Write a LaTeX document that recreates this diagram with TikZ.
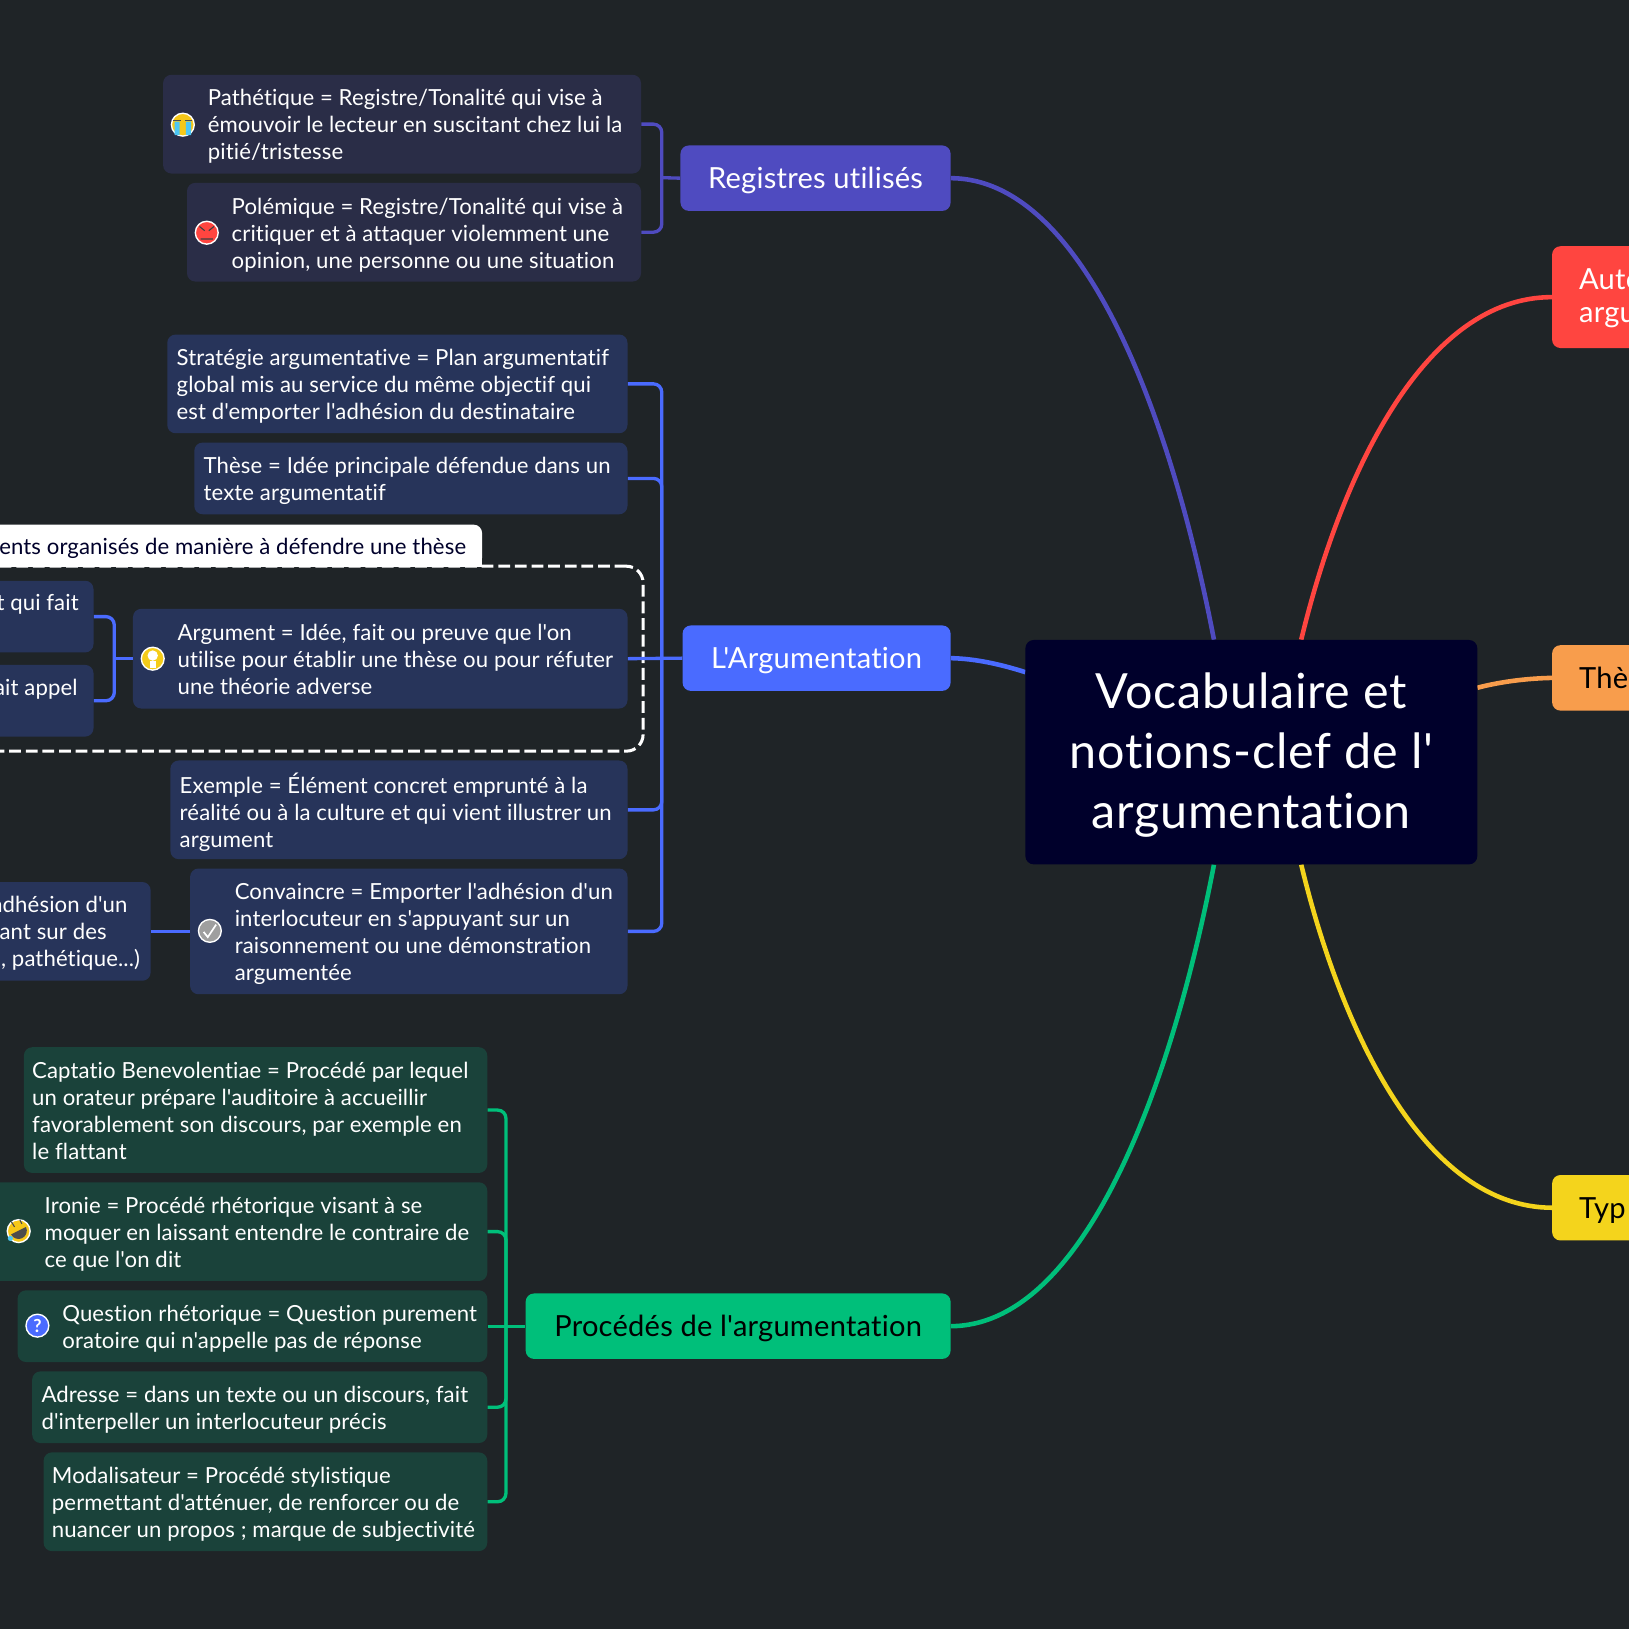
\documentclass[tikz,border=0pt]{standalone}
\usepackage{fontspec}
\setmainfont[Ligatures={TeXOff,NoCommon}]{Lato}
\usepackage{tikz}
\usetikzlibrary{fit}
\usetikzlibrary{backgrounds}
\definecolor{bgcol}{HTML}{1F2427}
\definecolor{centrecol}{HTML}{00002B}
\definecolor{regcol}{HTML}{4F4BC0}
\definecolor{reglight}{HTML}{2A2D47}
\definecolor{argcol}{HTML}{4A6BFF}
\definecolor{arglight}{HTML}{27345A}
\definecolor{proccol}{HTML}{00BF7A}
\definecolor{proclight}{HTML}{1A423A}
\definecolor{autocol}{HTML}{FF4540}
\definecolor{thesecol}{HTML}{F89D4C}
\definecolor{typecol}{HTML}{F4D41C}
\definecolor{sumcol}{HTML}{00002B}
\begin{document}
\begin{tikzpicture}[x=0.75pt, y=-0.75pt,
    leaf/.style={fill=#1, rounded corners=6pt, inner sep=0pt},
    txt/.style={align=left, text=white, inner sep=0pt, font=\fontsize{16}{19.5}\addfontfeatures{LetterSpace=0.5}\selectfont},
    lbl/.style={txt, anchor=west, yshift=-3.4pt, execute at begin node=\strut, execute at end node=\strut},
    cut/.style={txt, anchor=base east},
    toptxt/.style={inner sep=0pt, text=#1, yshift=-1.5pt, font=\fontsize{21}{24}\addfontfeatures{LetterSpace=0.8}\selectfont},
    curve/.style={draw=#1, line width=3.3pt},
    bus/.style={draw=#1, line width=2.4pt, rounded corners=6pt},
    icon/.style={circle, draw=white, line width=1pt, fill=#1, minimum size=16.5pt, inner sep=0pt}]
    \useasboundingbox (0,0) rectangle (1568,1568);

    \node (centre) [leaf=centrecol, fit={(987,616) (1422,832)}] {};
    \node (centret) [inner sep=0pt, align=center, text=white, yshift=-2.2pt, font=\fontsize{35}{43.5}\addfontfeatures{LetterSpace=1.5}\selectfont] at (centre) {Vocabulaire et\\notions-clef de l'\\argumentation};

    \node (regs) [leaf=regcol, fit={(655,140) (915,203)}] {};
    \node (regst) [toptxt=white] at (regs) {Registres utilisés};
    \node (largu) [leaf=argcol, fit={(657,602) (915,665)}] {};
    \node (largut) [toptxt=white] at (largu) {L'Argumentation};
    \node (procs) [leaf=proccol, fit={(506,1245) (915,1308)}] {};
    \node (procst) [toptxt=black] at (procs) {Procédés de l'argumentation};
    \node (auto) [leaf=autocol, fit={(1494,237) (1590,335)}] {};
    \node (autot) [toptxt=white, align=left, anchor=west] at ([shift={(26,-1)}]auto.west) {Auto\\argu};
    \node (these) [leaf=thesecol, fit={(1494,621) (1590,684)}] {};
    \node (theset) [toptxt=black, anchor=west] at ([shift={(26,-2)}]these.west) {Thè};
    \node (typ) [leaf=typecol, fit={(1494,1131) (1590,1194)}] {};
    \node (typt) [toptxt=black, anchor=west] at ([shift={(26,1)}]typ.west) {Typ};

    \node (reg1) [leaf=reglight, fit={(157,72) (617,167)}] {};
    \node (reg1t) [lbl] at ([shift={(43,0)}]reg1.west) {Pathétique = Registre/Tonalité qui vise à\\émouvoir le lecteur en suscitant chez lui la\\pitié/tristesse};
    \node (reg2) [leaf=reglight, fit={(180,176) (617,271)}] {};
    \node (reg2t) [lbl] at ([shift={(43,0)}]reg2.west) {Polémique = Registre/Tonalité qui vise à\\critiquer et à attaquer violemment une\\opinion, une personne ou une situation};

    \node (arg1) [leaf=arglight, fit={(161,322) (604,417)}] {};
    \node (arg1t) [lbl] at ([shift={(9,0)}]arg1.west) {Stratégie argumentative = Plan argumentatif\\global mis au service du même objectif qui\\est d'emporter l'adhésion du destinataire};
    \node (arg2) [leaf=arglight, fit={(187,426) (604,495)}] {};
    \node (arg2t) [lbl] at ([shift={(9,0)}]arg2.west) {Thèse = Idée principale défendue dans un\\texte argumentatif};

    \node (group) [draw=white, dash pattern=on 8.5pt off 3.5pt, line width=2.2pt, rounded corners=12pt, inner sep=0pt, fit={(-20,545) (619,723)}] {};
    \node (sum) [leaf=white, fit={(-20,505) (464,545)}] {};
    \fill[white] (-20,525) rectangle (464,546);
    \node (sumt) [cut, text=sumcol] at (449,534) {ents organisés de manière à défendre une thèse};

    \node (arg3) [leaf=arglight, fit={(128,586) (604,682)}] {};
    \node (arg3t) [lbl] at ([shift={(43,0)}]arg3.west) {Argument = Idée, fait ou preuve que l'on\\utilise pour établir une thèse ou pour réfuter\\une théorie adverse};
    \node (sub1) [leaf=arglight, fit={(-20,559) (90,628)}] {};
    \node (sub1t) [cut] at (76,588) {t qui fait};
    \node (sub2) [leaf=arglight, fit={(-20,640) (90,709)}] {};
    \node (sub2t) [cut] at (75,669) {ait appel};

    \node (arg4) [leaf=arglight, fit={(164,732) (604,827)}] {};
    \node (arg4t) [lbl] at ([shift={(9,0)}]arg4.west) {Exemple = Élément concret emprunté à la\\réalité ou à la culture et qui vient illustrer un\\argument};
    \node (arg5) [leaf=arglight, fit={(183,836) (604,957)}] {};
    \node (arg5t) [lbl] at ([shift={(43,0)}]arg5.west) {Convaincre = Emporter l'adhésion d'un\\interlocuteur en s'appuyant sur un\\raisonnement ou une démonstration\\argumentée};
    \node (sub3) [leaf=arglight, fit={(-20,849) (145,944)}] {};
    \node (sub3a) [cut] at (123,878) {adhésion d'un};
    \node (sub3b) [cut] at (103,904) {ant sur des};
    \node (sub3c) [cut] at (135,930) {, pathétique...)};

    \node (proc1) [leaf=proclight, fit={(23,1008) (469,1129)}] {};
    \node (proc1t) [lbl] at ([shift={(8,0)}]proc1.west) {Captatio Benevolentiae = Procédé par lequel\\un orateur prépare l'auditoire à accueillir\\favorablement son discours, par exemple en\\le flattant};
    \node (proc2) [leaf=proclight, fit={(-20,1138) (469,1233)}] {};
    \node (proc2t) [lbl] at ([shift={(63,0)}]proc2.west) {Ironie = Procédé rhétorique visant à se\\moquer en laissant entendre le contraire de\\ce que l'on dit};
    \node (proc3) [leaf=proclight, fit={(17,1242) (469,1311)}] {};
    \node (proc3t) [lbl] at ([shift={(43,0)}]proc3.west) {Question rhétorique = Question purement\\oratoire qui n'appelle pas de réponse};
    \node (proc4) [leaf=proclight, fit={(31,1320) (469,1389)}] {};
    \node (proc4t) [lbl] at ([shift={(9,0)}]proc4.west) {Adresse = dans un texte ou un discours, fait\\d'interpeller un interlocuteur précis};
    \node (proc5) [leaf=proclight, fit={(42,1398) (469,1493)}] {};
    \node (proc5t) [lbl] at ([shift={(8,0)}]proc5.west) {Modalisateur = Procédé stylistique\\permettant d'atténuer, de renforcer ou de\\nuancer un propos ; marque de subjectivité};

    \node (cry) [icon=typecol!85!orange] at (176,120) {};
    \fill[cyan!70!white] (168,117) rectangle (173,130) (179,117) rectangle (184,130);
    \draw[black!70, line width=1pt] (167,116) -- (174,116) (178,116) -- (185,116);
    \node (angry) [icon=autocol] at (199,224) {};
    \draw[black!75, line width=0.8pt] (192,218) -- (197,222) (206,218) -- (201,222) (193,230) -- (205,230);
    \node (bulb) [icon=typecol!90!orange] at (147,634) {};
    \fill[white] (147,631) circle (5);
    \fill[white] (144,636) rectangle (150,643);
    \node (check) [icon=gray!75] at (202,896) {};
    \draw[white, line width=1.2pt] (196,897) -- (200,902) -- (208,890);
    \node (laugh) [icon=typecol!85!orange] at (18,1185) {};
    \fill[black!70] (25,1181) arc (-26.6:153.4:8) -- cycle;
    \fill[cyan!70!white] (10,1192) circle (2.5);
    \draw[black!70, line width=0.8pt] (11,1176) -- (14,1181) (19,1174) -- (21,1178);
    \node (quest) [icon=argcol, text=white, font=\fontsize{13}{13}\bfseries\selectfont] at (36,1276) {?};

    \coordinate (regbus) at (637,171);
    \coordinate (argbus) at (637,634);
    \coordinate (subbus) at (110,634);
    \coordinate (procbus) at (487,1276);
    \draw[bus=regcol] (reg1.east) -| (regbus) |- (reg2.east);
    \draw[bus=regcol] (regbus) -- (regs.west);
    \draw[bus=argcol] (arg1.east) -| (argbus) |- (arg5.east);
    \draw[bus=argcol] (arg2.east) -| (argbus);
    \draw[bus=argcol] (arg4.east) -| (argbus);
    \draw[bus=argcol] (arg3.east) -- (largu.west);
    \draw[bus=argcol] (sub1.east) -| (subbus) |- (sub2.east);
    \draw[bus=argcol] (subbus) -- (arg3.west);
    \draw[bus=argcol] (sub3.east) -- (arg5.west);
    \draw[bus=proccol] (proc1.east) -| (procbus) |- (proc5.east);
    \draw[bus=proccol] (proc2.east) -| (procbus);
    \draw[bus=proccol] (proc4.east) -| (procbus);
    \draw[bus=proccol] (proc3.east) -- (procs.west);

    \begin{scope}[on background layer]
        \fill[bgcol] (0,0) rectangle (1568,1568);
        \draw[curve=regcol] (regs.east) .. controls (1040,172) and (1125,390) .. ([xshift=-36*0.75pt]centre.north);
        \draw[curve=autocol] (auto.west) .. controls (1374,286) and (1293,448) .. ([xshift=48*0.75pt]centre.north);
        \draw[curve=argcol] (largu.east) .. controls (940,634) and (965,640) .. (987,647);
        \draw[curve=thesecol] (these.west) .. controls (1470,653) and (1445,656) .. (1422,662);
        \draw[curve=proccol] (procs.east) .. controls (1040,1276) and (1125,1058) .. ([xshift=-36*0.75pt]centre.south);
        \draw[curve=typecol] (typ.west) .. controls (1374,1162) and (1293,1000) .. ([xshift=48*0.75pt]centre.south);
    \end{scope}
\end{tikzpicture}
\end{document}
